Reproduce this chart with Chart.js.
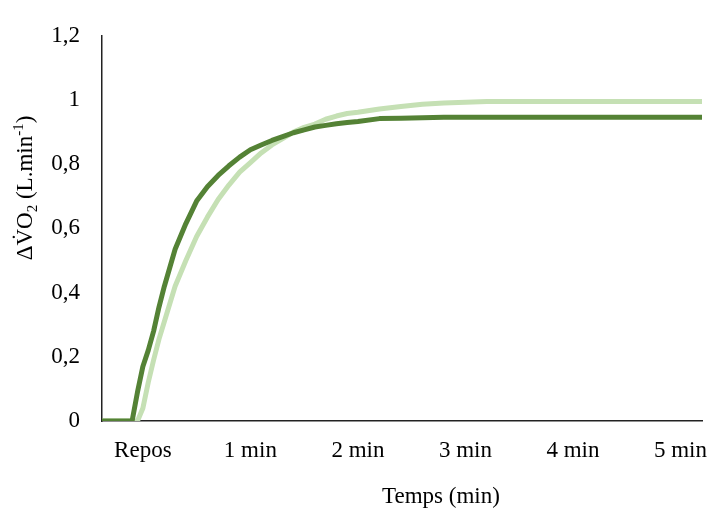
<!DOCTYPE html>
<html>
<head>
<meta charset="utf-8">
<script src="https://cdn.jsdelivr.net/npm/chart.js@4.4.1/dist/chart.umd.min.js"></script>
<style>
  html, body { margin: 0; padding: 0; background: #fff; }
  #wrap { width: 717px; height: 509px; }
</style>
</head>
<body>
<div id="wrap"><canvas id="vo2Chart" width="717" height="509"></canvas></div>
<script>
// time in minutes (0 = "Repos" label)
var timeMin = [-0.38, -0.10, -0.05, 0, 0.05, 0.1, 0.15, 0.2, 0.3, 0.4, 0.5, 0.6, 0.7, 0.8, 0.9,
    1.0, 1.1, 1.2, 1.3, 1.4, 1.5, 1.6, 1.7, 1.8, 1.9, 2.0, 2.2, 2.4, 2.6, 2.8, 3.0, 3.2, 3.5, 4.0, 4.5, 5.0, 5.2];
var darkVO2 = [0, 0, 0.09, 0.17, 0.22, 0.28, 0.355, 0.42, 0.535, 0.615, 0.685, 0.73, 0.765, 0.795, 0.822,
    0.845, 0.86, 0.874, 0.886, 0.898, 0.907, 0.916, 0.921, 0.926, 0.93, 0.933, 0.942, 0.943, 0.945, 0.946, 0.946, 0.946, 0.946, 0.946, 0.946, 0.946, 0.946];
var lightVO2 = [0, 0, 0, 0.04, 0.12, 0.19, 0.255, 0.31, 0.42, 0.5, 0.575, 0.635, 0.69, 0.735, 0.775,
    0.805, 0.835, 0.86, 0.88, 0.9, 0.915, 0.925, 0.94, 0.95, 0.958, 0.962, 0.972, 0.98, 0.987, 0.991, 0.993, 0.995, 0.995, 0.995, 0.995, 0.995, 0.995];
var xTickLabels = ['Repos', '1 min', '2 min', '3 min', '4 min', '5 min'];

function toPoints(ys) {
    return ys.map(function (y, i) { return { x: timeMin[i], y: y }; });
}

var serif = '"Liberation Serif", "Times New Roman", serif';

// draws x tick labels and both axis titles
var textPlugin = {
    id: 'textPlugin',
    afterDraw: function (chart) {
        var ctx = chart.ctx;
        var xs = chart.scales.x;
        ctx.save();
        ctx.fillStyle = '#000';
        ctx.textBaseline = 'alphabetic';
        ctx.textAlign = 'center';
        ctx.font = '23px ' + serif;
        xTickLabels.forEach(function (lbl, i) {
            ctx.fillText(lbl, xs.getPixelForValue(i), 457);
        });
        ctx.fillText('Temps (min)', 441, 503);

        // y title with sub/superscripts, rotated
        var parts = [
            { t: '\u0394V\u0307O', s: 23, dy: 0 },
            { t: '2', s: 15, dy: 5 },
            { t: ' (L.min', s: 23, dy: 0 },
            { t: '-1', s: 15, dy: -9 },
            { t: ')', s: 23, dy: 0 }
        ];
        var total = 0;
        parts.forEach(function (p) {
            ctx.font = p.s + 'px ' + serif;
            p.w = ctx.measureText(p.t).width;
            total += p.w;
        });
        ctx.translate(32, 188);
        ctx.rotate(-Math.PI / 2);
        ctx.textAlign = 'left';
        var x = -total / 2;
        parts.forEach(function (p) {
            ctx.font = p.s + 'px ' + serif;
            ctx.fillText(p.t, x, p.dy);
            x += p.w;
        });
        ctx.restore();
    }
};

var ctxVO2 = document.getElementById('vo2Chart').getContext('2d');
var vo2Chart = new Chart(ctxVO2, {
    type: 'line',
    data: {
        datasets: [{
            label: 'Dark',
            data: toPoints(darkVO2),
            borderColor: '#548235',
            borderWidth: 5,
            pointRadius: 0,
            tension: 0,
            borderCapStyle: 'round',
            borderJoinStyle: 'round'
        }, {
            label: 'Light',
            data: toPoints(lightVO2),
            borderColor: '#c5e0b4',
            borderWidth: 5,
            pointRadius: 0,
            tension: 0,
            borderCapStyle: 'round',
            borderJoinStyle: 'round'
        }]
    },
    options: {
        responsive: false,
        animation: false,
        layout: { padding: { left: 0, right: 15, top: 25, bottom: 0 } },
        plugins: {
            legend: { display: false },
            tooltip: { enabled: false }
        },
        scales: {
            x: {
                type: 'linear',
                min: -0.38,
                max: 5.2,
                grid: { display: false, drawTicks: false },
                border: { display: true, color: '#222', width: 1.5 },
                ticks: { display: false },
                afterFit: function (scale) { scale.height = 88; }
            },
            y: {
                min: 0,
                max: 1.2,
                grid: { display: false, drawTicks: false },
                border: { display: true, color: '#222', width: 1.5 },
                ticks: {
                    stepSize: 0.2,
                    padding: 22,
                    color: '#000',
                    font: { family: serif, size: 23 },
                    callback: function (v) { return (Math.round(v * 10) / 10).toString().replace('.', ','); }
                },
                afterFit: function (scale) { scale.width = 102; }
            }
        }
    },
    plugins: [textPlugin]
});
</script>
</body>
</html>
